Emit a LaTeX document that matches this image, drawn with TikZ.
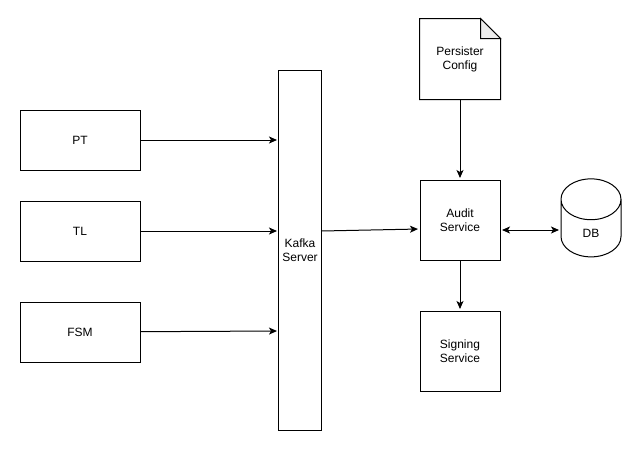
\documentclass[tikz,border=0pt]{standalone}
\usepackage{fontspec}
\setmainfont{Liberation Sans}
\usetikzlibrary{positioning}
\usetikzlibrary{arrows.meta}
\usetikzlibrary{shapes.geometric}

\begin{document}
\begin{tikzpicture}[x=1pt, y=-1pt, line width=1pt,
	font=\fontsize{12}{14}\selectfont,
	>={Stealth[length=8pt, width=7pt, inset=2pt]},
	block/.style={draw, rectangle, minimum width=120pt, minimum height=60pt, align=center},
	svc/.style={draw, rectangle, minimum width=80pt, minimum height=80pt, align=center},
	link/.style={->, shorten >=1.5pt}]
	\useasboundingbox (0,0) rectangle (641,451);
	\node (pt) [block] at (80,140) {PT}
	node (tl)     [block, below=30pt of pt]    {TL}
	node (fsm)    [block, below=40pt of tl]    {FSM};
	\node (kafka) [draw, minimum width=40pt, minimum height=360pt, align=center] at (300,250) {Kafka\\Server};
	\node (audit) [svc] at (460,220) {Audit\\Service};
	\node (cfg)   [minimum width=80pt, minimum height=80pt, align=center, above=80pt of audit] {Persister\\Config};
	\node (sign)  [svc, below=50pt of audit] {Signing\\Service};
	\node (db)    [draw, cylinder, shape border rotate=90, aspect=1.75,
		minimum width=60pt, minimum height=78pt, right=60pt of audit, yshift=-13pt] {DB};
	\coordinate (dbin) at ([yshift=-10pt]audit.east);
	% document with folded corner
	\draw (cfg.north west) -- ([xshift=-20pt]cfg.north east) -- ([yshift=-20pt]cfg.north east)
		-- (cfg.south east) -- (cfg.south west) -- cycle;
	\draw[fill=black!7] ([xshift=-20pt]cfg.north east) -- ([xshift=-20pt, yshift=-20pt]cfg.north east)
		-- ([yshift=-20pt]cfg.north east) -- cycle;
	% connectors
	\foreach \X in {pt, tl}
	{\draw[link] (\X) -- (kafka.west |- \X);}
	\draw[link] (fsm) -- ([yshift=1pt]kafka.west |- fsm);
	\draw[link] ([yshift=19pt]kafka.east) -- ([yshift=-9pt]audit.west);
	\draw[link] (cfg) -- (audit);
	\draw[link] (audit) -- (sign);
	\draw[<->, shorten <=1.5pt, shorten >=1.5pt] (dbin) -- (db.west |- dbin);
\end{tikzpicture}
\end{document}
